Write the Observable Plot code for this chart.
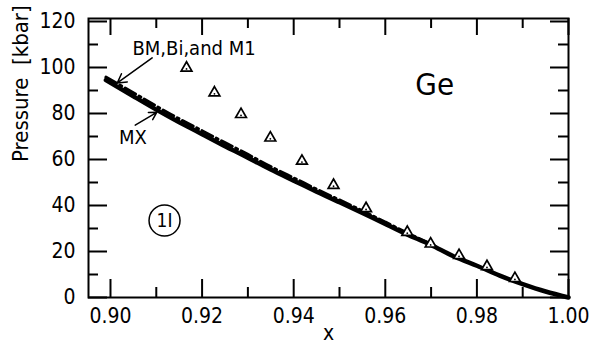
<!DOCTYPE html>
<html><head><meta charset="utf-8">
<script src="https://cdn.jsdelivr.net/npm/d3@7"></script>
<script src="https://cdn.jsdelivr.net/npm/@observablehq/plot@0.6"></script>
<style>
body{margin:0;background:#fff}
#chart svg{font-family:'DejaVu Sans Condensed','DejaVu Sans',sans-serif}
</style>
</head><body><div id="chart"></div>
<script>
// Solid curve (BM, Bi and M1)
const curveX = [0.899, 0.905, 0.910, 0.915, 0.920, 0.925, 0.930, 0.935, 0.940, 0.945, 0.950, 0.955, 0.960, 0.965, 0.970, 0.975, 0.980, 0.985, 0.990, 0.995, 1.000];
const curveP = [94.5, 87.5, 81.7, 76.2, 71.0, 65.8, 60.8, 55.6, 50.8, 46.0, 41.4, 36.8, 32.0, 27.2, 22.8, 17.8, 13.8, 9.5, 5.8, 2.6, 0.0];
// Dash-dot curve (MX)
const mxX = [0.899, 0.905, 0.910, 0.915, 0.920, 0.925, 0.930, 0.935, 0.940, 0.945, 0.950, 0.955, 0.960, 0.965, 0.970];
const mxP = [95.8, 89.0, 83.2, 77.7, 72.5, 67.3, 62.2, 56.9, 52.0, 47.1, 42.4, 37.7, 32.8, 27.9, 23.2];
// Experimental points (triangles)
const triX = [0.9166, 0.9227, 0.9285, 0.9349, 0.9418, 0.9487, 0.9558, 0.9648, 0.9699, 0.9761, 0.9822, 0.9883];
const triP = [99.8, 89.0, 79.6, 69.4, 59.3, 48.8, 38.7, 28.4, 23.3, 18.3, 13.5, 8.3];
// Ticks
const xMajor = [0.90, 0.92, 0.94, 0.96, 0.98, 1.00];
const xMinor = [0.91, 0.93, 0.95, 0.97, 0.99];
const yMajor = [0, 20, 40, 60, 80, 100, 120];
const yMinor = [10, 30, 50, 70, 90, 110];
// Annotations
const noteText = ["BM,Bi,and M1", "MX", "Ge", "1I"];
const noteX = [0.9048, 0.9049, 0.9708, 0.9118];
const noteP = [108.2, 69.7, 92.3, 33.5];
const arrowX1 = [0.9091, 0.9054];
const arrowP1 = [104.2, 74.9];
const arrowX2 = [0.9015, 0.9101];
const arrowP2 = [93.3, 80.5];

const curve = curveX.map((x, i) => ({x, p: curveP[i]}));
const mx = mxX.map((x, i) => ({x, p: mxP[i]}));
const tri = triX.map((x, i) => ({x, p: triP[i]}));
const notes = noteText.map((t, i) => ({t, x: noteX[i], p: noteP[i]}));
const arrows = arrowX1.map((x1, i) => ({x1, y1: arrowP1[i], x2: arrowX2[i], y2: arrowP2[i]}));

const W = 590, H = 347, ML = 88, MR = 22, MT = 18, MB = 50;
const FW = W - ML - MR, FH = H - MT - MB;
const xDom = [0.8952, 1.0], yDom = [0, 121.3];
// tick lengths in pixels, converted to data units
const dxu = px => px * (xDom[1] - xDom[0]) / FW;
const dyu = px => px * (yDom[1] - yDom[0]) / FH;

const plot = Plot.plot({
  width: W, height: H,
  marginLeft: ML, marginRight: MR, marginTop: MT, marginBottom: MB,
  x: {domain: xDom},
  y: {domain: yDom},
  marks: [
    Plot.frame({stroke: "black", strokeWidth: 2}),
    Plot.ruleX(xMajor, {x: d => d, y1: yDom[0], y2: yDom[0] + dyu(18), stroke: "black", strokeWidth: 2}),
    Plot.ruleX(xMinor, {x: d => d, y1: yDom[0], y2: yDom[0] + dyu(10), stroke: "black", strokeWidth: 2}),
    Plot.ruleX(xMajor, {x: d => d, y1: yDom[1], y2: yDom[1] - dyu(17), stroke: "black", strokeWidth: 2}),
    Plot.ruleX(xMinor, {x: d => d, y1: yDom[1], y2: yDom[1] - dyu(10), stroke: "black", strokeWidth: 2}),
    Plot.ruleY(yMajor, {y: d => d, x1: xDom[0], x2: xDom[0] + dxu(19), stroke: "black", strokeWidth: 2}),
    Plot.ruleY(yMinor, {y: d => d, x1: xDom[0], x2: xDom[0] + dxu(10), stroke: "black", strokeWidth: 2}),
    Plot.ruleY(yMajor, {y: d => d, x1: xDom[1], x2: xDom[1] - dxu(18), stroke: "black", strokeWidth: 2}),
    Plot.ruleY(yMinor, {y: d => d, x1: xDom[1], x2: xDom[1] - dxu(10), stroke: "black", strokeWidth: 2}),
    Plot.axisX({ticks: xMajor, anchor: "bottom", tickSize: 0, tickPadding: 11, tickFormat: d => d.toFixed(2), fontSize: 21, label: null}),
    Plot.axisY({ticks: yMajor, anchor: "left", tickSize: 0, tickPadding: 13, tickFormat: d => String(d), fontSize: 21, label: null}),
    Plot.text(["Pressure  [kbar]"], {frameAnchor: "left", rotate: -90, dx: -68, dy: 4, fontSize: 22, fill: "black"}),
    Plot.text(["x"], {frameAnchor: "bottom", dy: 42, fontSize: 21, fill: "black"}),
    Plot.line(curve, {x: "x", y: "p", stroke: "black", strokeWidth: 4.5, curve: "natural"}),
    Plot.line(mx, {x: "x", y: "p", stroke: "black", strokeWidth: 3, strokeDasharray: "12,4,2,4", curve: "natural"}),
    Plot.dot(tri, {x: "x", y: "p", symbol: "triangle", r: 4, stroke: "black", strokeWidth: 1.7, fill: "white"}),
    Plot.dot(tri, {x: "x", y: "p", r: 0.9, fill: "black", dy: 1}),
    Plot.arrow(arrows, {x1: "x1", y1: "y1", x2: "x2", y2: "y2", stroke: "black", strokeWidth: 1.5, headLength: 10}),
    Plot.text(notes.slice(0, 1), {x: "x", y: "p", text: "t", textAnchor: "start", fontSize: 20, fill: "black"}),
    Plot.text(notes.slice(1, 2), {x: "x", y: "p", text: "t", fontSize: 20, fill: "black"}),
    Plot.text(notes.slice(2, 3), {x: "x", y: "p", text: "t", fontSize: 31, fill: "black"}),
    Plot.dot(notes.slice(3, 4), {x: "x", y: "p", r: 15.5, stroke: "black", strokeWidth: 1.5, fill: "none"}),
    Plot.text(notes.slice(3, 4), {x: "x", y: "p", text: "t", fontSize: 19, fill: "black"})
  ]
});
document.getElementById("chart").appendChild(plot);
</script>
</body></html>
